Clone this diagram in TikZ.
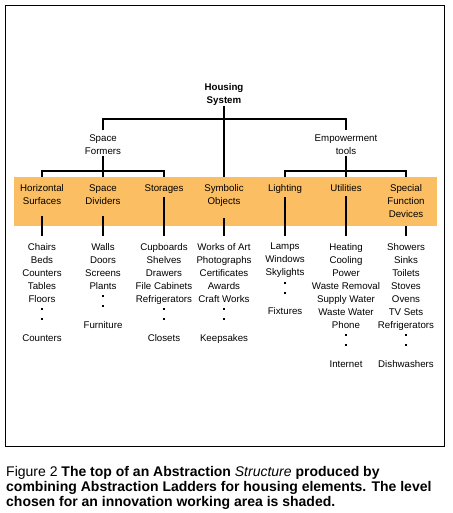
\documentclass[tikz,border=0pt]{standalone}
\usepackage{fontspec}
\setmainfont{Liberation Sans}
\usepackage{tikz}
\usepackage{xcolor}
\usetikzlibrary{calc}

\definecolor{bandorange}{RGB}{251,190,98}
\newcommand{\ldot}{\rule[2pt]{1.4pt}{2pt}}
\newcommand{\gapdots}{\\[-3pt]\ldot\\[-3pt]\ldot\\[6pt]}

\begin{document}
\begin{tikzpicture}[x=1pt,y=-1pt,
  lbl/.style={align=center,inner sep=1pt,font=\fontsize{9.7}{13}\selectfont},
  cat/.style={lbl,anchor=north},
  items/.style={lbl,anchor=north,inner ysep=7pt},
  conn/.style={line width=2pt}]
\useasboundingbox (0,0) rectangle (452,513);
\draw[line width=0.8pt] (5,5) rectangle (444,446);

% shaded working level
\node[fill=bandorange,minimum width=423pt,minimum height=49pt,inner sep=0pt] (band) at (225.5,201.5) {};

\node[lbl,font=\bfseries\fontsize{9.7}{13}\selectfont] (housing) at (224,94) {Housing\\System};
\node[lbl] (spaceform) at (103,144.5) {Space\\Formers};
\node[lbl] (empower) at (346,144.5) {Empowerment\\tools};

\node[cat] (horiz) at (42,183.5) {Horizontal\\Surfaces};
\node[cat] (spacediv) at (103,183.5) {Space\\Dividers};
\node[cat] (stor) at (164,183.5) {Storages};
\node[cat] (symb) at (224,183.5) {Symbolic\\Objects};
\node[cat] (light) at (285,183.5) {Lighting};
\node[cat] (util) at (346,183.5) {Utilities};
\node[cat] (special) at (406,183.5) {Special\\Function\\Devices};

\node[items] (horizitems) at (42,236) {Chairs\\Beds\\Counters\\Tables\\Floors\gapdots Counters};
\node[items] (spacedivitems) at (103,236) {Walls\\Doors\\Screens\\Plants\gapdots Furniture};
\node[items] (storitems) at (164,236) {Cupboards\\Shelves\\Drawers\\File Cabinets\\Refrigerators\gapdots Closets};
\node[items] (symbitems) at (224,236) {Works of Art\\Photographs\\Certificates\\Awards\\Craft Works\gapdots Keepsakes};
\node[items] (lightitems) at (285,236) {Lamps\\Windows\\Skylights\gapdots Fixtures};
\node[items] (utilitems) at (346,236) {Heating\\Cooling\\Power\\Waste Removal\\Supply Water\\Waste Water\\Phone\gapdots Internet};
\node[items] (specialitems) at (406,236) {Showers\\Sinks\\Toilets\\Stoves\\Ovens\\TV Sets\\Refrigerators\gapdots Dishwashers};

\coordinate (topbar) at (224,119);
\coordinate (leftbar) at (103,171);
\coordinate (rightbar) at (346,171);

\draw[conn] (housing) -- (symb.north |- band.north);
\draw[conn] ([yshift=3pt]spaceform.north) |- (topbar) -| ([yshift=3pt]empower.north);
\draw[conn] (spaceform) -- (spacediv.north |- band.north);
\draw[conn] (empower) -- (util.north |- band.north);
\draw[conn] (horiz.north |- band.north) |- (leftbar) -| (stor.north |- band.north);
\draw[conn] (light.north |- band.north) |- (rightbar) -| (special.north |- band.north);

\draw[conn] (horiz.south) ++(0,10) -- (horizitems.north);
\draw[conn] (spacediv.south) ++(0,10) -- (spacedivitems.north);
\draw[conn] (stor.south) ++(0,2.5) -- (storitems.north);
\draw[conn] (symb.south) ++(0,10) -- (symbitems.north);
\draw[conn] (light.south) ++(0,2.5) -- (lightitems.north);
\draw[conn] (util.south) ++(0,2.5) -- (utilitems.north);
\draw[conn] (special.south) ++(0,6.5) -- (specialitems.north);

\node[anchor=north west,align=left,inner sep=0pt,font=\fontsize{14}{15}\selectfont] (caption) at (6,466.5)
  {Figure 2 \textbf{The top of an Abstraction \textmd{\textit{Structure}} produced by}\\
   \textbf{combining Abstraction Ladders for housing elements. The level}\\
   \textbf{chosen for an innovation working area is shaded.}};
\end{tikzpicture}
\end{document}
